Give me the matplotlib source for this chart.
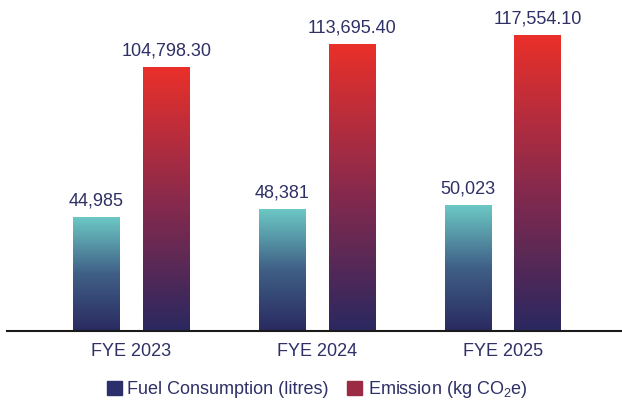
import matplotlib.pyplot as plt
import numpy as np
from matplotlib.colors import LinearSegmentedColormap
from matplotlib.patches import Patch

plt.rcParams['font.family'] = ['Liberation Sans', 'DejaVu Sans']
plt.rcParams['mathtext.default'] = 'regular'

# chart data
years = ['FYE 2023', 'FYE 2024', 'FYE 2025']
fuel_litres = [44985, 48381, 50023]
emission_kg = [104798.30, 113695.40, 117554.10]
fuel_labels = ['44,985', '48,381', '50,023']
emission_labels = ['104,798.30', '113,695.40', '117,554.10']
series_names = ['Fuel Consumption (litres)', 'Emission (kg CO$_2$e)']

text_color = '#2e3066'
fuel_cmap = LinearSegmentedColormap.from_list('fuel', ['#2a2a60', '#3f5f86', '#6cc8c4'])
emis_cmap = LinearSegmentedColormap.from_list('emis', ['#2a2860', '#8a2a4c', '#ea302a'])

fig = plt.figure(figsize=(6.22, 4.03), dpi=100)
# axes: baseline at y=331px, line from x=7px to the right edge
ax = fig.add_axes([7 / 622, (403 - 331) / 403, 615 / 622, 331 / 403])

x = np.arange(len(years))
bar_w = 0.253
offset = 0.188
ymax = 131500

grad = np.linspace(0, 1, 256).reshape(-1, 1)


def gradient_bars(positions, values, cmap, labels):
    for xc, v, lab in zip(positions, values, labels):
        ax.imshow(grad, extent=[xc - bar_w / 2, xc + bar_w / 2, 0, v],
                  origin='lower', aspect='auto', cmap=cmap, zorder=2)
        ax.annotate(lab, (xc, v), xytext=(0, 8.6), textcoords='offset points',
                    ha='center', va='baseline', fontsize=13, color=text_color)


gradient_bars(x - offset, fuel_litres, fuel_cmap, fuel_labels)
gradient_bars(x + offset, emission_kg, emis_cmap, emission_labels)

ax.set_xlim((7 - 131.5) / 185.75, (622 - 131.5) / 185.75)
ax.set_ylim(0, ymax)
ax.set_xticks(x)
ax.set_xticklabels(years, fontsize=13, color=text_color)
ax.tick_params(axis='x', length=0, pad=9)
ax.set_yticks([])
for side in ['top', 'right', 'left']:
    ax.spines[side].set_visible(False)
ax.spines['bottom'].set_linewidth(1.5)
ax.spines['bottom'].set_color('#1a1a1a')
ax.spines['bottom'].set_zorder(3)

handles = [Patch(color='#2b2f6b'), Patch(color='#9b2a45')]
fig.legend(handles, series_names, loc='center', ncol=2,
           bbox_to_anchor=(317 / 622, 1 - 390 / 403), frameon=False,
           fontsize=13, labelcolor=text_color, handlelength=0.85,
           handleheight=0.85, handletextpad=0.3, columnspacing=1.0)

fig.savefig('out.png', dpi=100)
